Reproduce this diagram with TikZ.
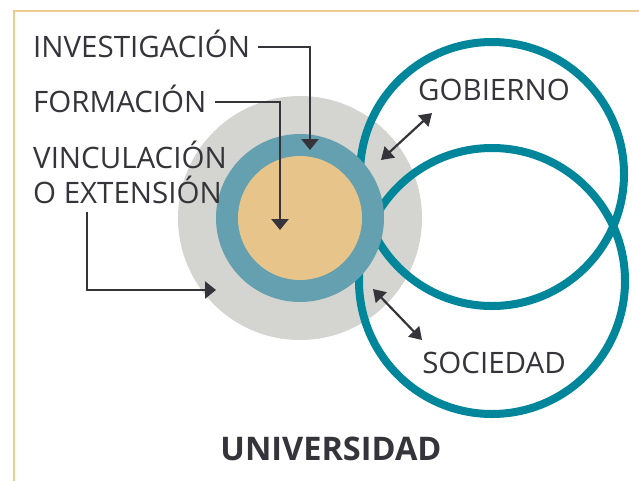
\documentclass[tikz,border=0pt]{standalone}
\usepackage{fontspec}
\setmainfont{Open Sans}
\usetikzlibrary{arrows.meta}
\definecolor{bordc}{HTML}{EBCB8E}
\definecolor{grayc}{HTML}{D4D5D0}
\definecolor{bluec}{HTML}{64A0AF}
\definecolor{tanc}{HTML}{E6C48A}
\definecolor{tealc}{HTML}{00869B}
\definecolor{darkc}{HTML}{35343A}
\tikzset{
  lbl/.style={inner sep=0pt, text height=20pt, text depth=0pt, text=darkc, font=\fontsize{29.5}{34}\selectfont},
  conn/.style={draw=darkc, line width=2.8pt, -{Triangle[width=17pt,length=11pt]}},
  dbl/.style={draw=darkc, line width=2.2pt, {Triangle[width=15pt,length=12pt]}-{Triangle[width=15pt,length=12pt]}},
  disc/.style={circle, inner sep=0pt, outer sep=0pt},
  ring/.style={circle, draw=tealc, line width=8pt, inner sep=0pt, outer sep=0pt}
}
\begin{document}
\begin{tikzpicture}[x=1pt,y=-1pt]
\useasboundingbox (0,0) rectangle (639,480);
\draw[bordc, line width=2.5pt] (639,11) -- (14,11) -- (14,481);
\node[disc, fill=grayc, minimum size=244pt] (outer) at (300,218) {};
\node[ring, minimum size=264pt] (gobc) at (492,174) {};
\node[ring, minimum size=266pt] (socc) at (492,281) {};
\node[disc, fill=bluec, minimum size=168pt] (mid) at (300,218) {};
\node[disc, fill=tanc, minimum size=124pt] (inner) at (300,218) {};

\node[lbl, anchor=base west] (inv) at (33,57) {INVESTIGACIÓN};
\node[lbl, anchor=base west] (for) at (33,112) {FORMACIÓN};
\node[lbl, anchor=base west] (vin1) at (33,168) {VINCULACIÓN};
\node[lbl, anchor=base west] (vin2) at (33,203) {O EXTENSIÓN};
\node[lbl, anchor=base] (gob) at (494,100) {GOBIERNO};
\node[lbl, anchor=base] (soc) at (494,373) {SOCIEDAD};
\node[lbl, anchor=base, font=\fontsize{32.5}{38}\selectfont\bfseries] (uni) at (331,460) {UNIVERSIDAD};

\coordinate (invtip) at (310,150);
\coordinate (fortip) at (280,230);
\coordinate (vinstart) at (87,212);
\coordinate (vintip) at (216,290);
\draw[conn] ([xshift=8pt]inv.east) -| (invtip);
\draw[conn] ([xshift=8pt]for.east) -| (fortip);
\draw[conn] (vinstart) |- (vintip);

\coordinate (g1) at (381,160);
\coordinate (g2) at (432,113);
\coordinate (s1) at (373,289);
\coordinate (s2) at (422,340);
\draw[dbl] (g1) -- (g2);
\draw[dbl] (s1) -- (s2);
\end{tikzpicture}
\end{document}
